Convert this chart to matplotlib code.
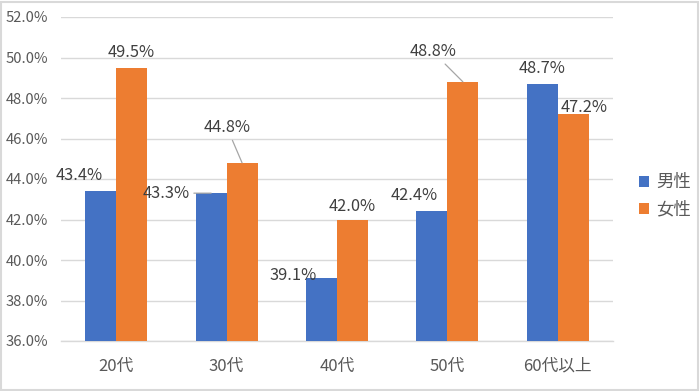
import matplotlib
matplotlib.use("Agg")
import matplotlib.pyplot as plt
import numpy as np
from matplotlib.patches import Rectangle

plt.rcParams['font.family'] = ['Noto Sans CJK JP', 'DejaVu Sans']

categories = ['20代', '30代', '40代', '50代', '60代以上']
male = [43.4, 43.3, 39.1, 42.4, 48.7]
female = [49.5, 44.8, 42.0, 48.8, 47.2]
series_names = ['男性', '女性']
yticks = [36, 38, 40, 42, 44, 46, 48, 50, 52]

# label offsets in pixels (dx, dy) and whether a leader line is drawn
male_off = [(-22, 16, False), (-45, 0, True), (-28, 3, False), (-18, 16, False), (0, 15, False)]
female_off = [(0, 15, False), (-15, 35, True), (0, 13, False), (-30, 30, True), (11, 7, False)]

blue = '#4472C4'
orange = '#ED7D31'
txt = '#595959'
grid = '#D9D9D9'

fig = plt.figure(figsize=(7, 3.91), dpi=100)
ax = fig.add_axes([61/700, 1-341/391, (613-61)/700, (341-17)/391])

x = np.arange(len(categories))
w = 0.28
b1 = ax.bar(x - w/2, male, w, color=blue, label=series_names[0], zorder=3)
b2 = ax.bar(x + w/2, female, w, color=orange, label=series_names[1], zorder=3)

ax.set_xlim(-0.5, len(categories) - 0.5)
ax.set_ylim(36, 52)
ax.set_yticks(yticks)
ax.set_yticklabels([f'{v:.1f}%' for v in yticks], color=txt, fontsize=10.6)
ax.set_xticks(x)
ax.set_xticklabels(categories, color=txt, fontsize=12)
ax.tick_params(axis='y', length=0, pad=9.5)
ax.tick_params(axis='x', length=0, pad=12)
ax.yaxis.grid(True, color=grid, linewidth=1, zorder=0)
for s in ['top', 'right', 'left']:
    ax.spines[s].set_visible(False)
ax.spines['bottom'].set_color(grid)
ax.spines['bottom'].set_linewidth(1)

pt = 0.72
for bars, vals, offs in [(b1, male, male_off), (b2, female, female_off)]:
    for bar, v, (dx, dy, lead) in zip(bars, vals, offs):
        xc = bar.get_x() + bar.get_width()/2
        kw = {}
        if lead:
            kw['arrowprops'] = dict(arrowstyle='-', color='#A6A6A6', lw=0.9,
                                    shrinkA=1, shrinkB=0)
        ax.annotate(f'{v:.1f}%', xy=(xc, v), xytext=(dx*pt, dy*pt),
                    textcoords='offset points', ha='center', va='center',
                    fontsize=11.8, color='#404040', zorder=5, **kw)

leg = fig.legend(handles=[b1, b2], labels=series_names, loc='center left',
                 bbox_to_anchor=(632/700, 1-196/391), frameon=False,
                 fontsize=12.5, handlelength=0.6, handleheight=0.6,
                 handletextpad=0.4, labelspacing=0.55, borderaxespad=0)
for t in leg.get_texts():
    t.set_color(txt)

fig.add_artist(Rectangle((0.002, 0.003), 0.995, 0.993, transform=fig.transFigure,
                         fill=False, edgecolor='#D9D9D9', linewidth=1.5))

fig.savefig('out.png', dpi=100)
